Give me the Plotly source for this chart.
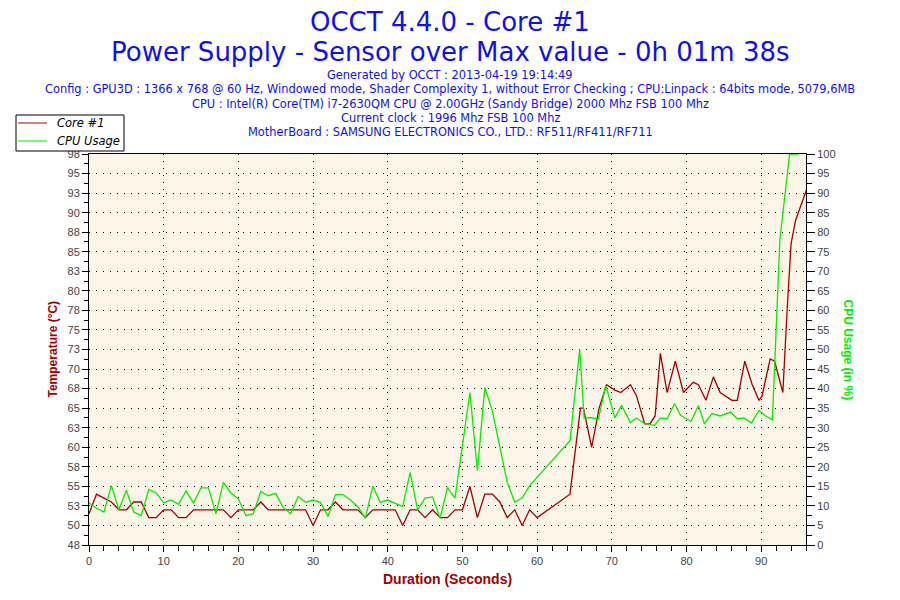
import plotly.graph_objects as go

# Core #1 temperature (deg C) against time (s)
core_time = [0, 1, 2, 3, 4, 5, 6, 7, 8, 9, 10, 11, 12, 13, 14, 15, 16, 17, 18, 19,
             20, 21, 22, 23, 24, 25, 26, 27, 28, 29, 30, 31, 32, 33, 34, 35, 36, 37, 38, 39,
             40, 41, 42, 43, 44, 45, 46, 47, 48, 49, 50, 51, 52, 53, 54, 55, 56, 57, 58, 59,
             60, 64.4, 65.8, 66.2, 67.3, 68.3, 69.3, 70.4, 71.2, 72.5, 73.3, 74.4, 75.1, 75.8,
             76.5, 77.4, 78.5, 79.6, 80.9, 81.6, 82.6, 83.6, 84.5, 85.4, 86.1, 86.8, 87.8, 88.8,
             89.7, 90.1, 91.2, 91.8, 92.9, 93.5, 94.0, 94.6, 95.3, 96.1]
core_temp = [51.5, 54, 53.5, 53, 52, 52, 53, 53, 51, 51, 52, 52, 51, 51, 52, 52, 52, 52, 52, 51,
             52, 52, 52, 53, 52, 52, 52, 52, 52, 52, 50, 52, 52, 53, 52, 52, 52, 51, 52, 52,
             52, 52, 50, 52, 52, 51, 52, 51, 51, 52, 52, 55, 51, 54, 54, 53, 51, 52, 50, 52,
             51, 54, 65, 65, 60, 65, 68, 67.3, 67, 68, 66.6, 63, 63, 64,
             72, 67, 71, 67, 68.3, 68, 66, 69, 67, 66.5, 66, 66, 71, 68,
             66, 66.5, 71.3, 71, 67, 78, 86, 89, 91, 93]

# CPU usage (%) against time (s)
cpu_time = [0, 1, 2, 3, 4, 5, 6, 7, 8, 9, 10, 11, 12, 13, 14, 15, 16, 17, 18, 19,
            20, 21, 22, 23, 24, 25, 26, 27, 28, 29, 30, 31, 32, 33, 34, 35, 36, 37, 38, 39,
            40, 41, 42, 43, 44, 45, 46, 47, 48, 49, 50, 51, 52, 53, 54, 55, 56, 57, 58, 59,
            64.4, 65.7, 66.3, 67.1, 68.2, 69.2, 70.4, 71.3, 72.5, 73.3, 74.3, 74.8, 75.7, 76.5,
            77.4, 78.4, 79.2, 80.6, 81.6, 82.4, 83.4, 84.5, 85.9, 86.8, 87.7, 88.7, 89.7, 90.6,
            91.5, 92.5, 93.8, 95]
cpu_usage = [10.8, 9.4, 8.4, 15.2, 9, 14, 8.4, 7.5, 14.2, 13.3, 10.8, 11.5, 10.4, 13.8, 10.7,
             14.6, 14.6, 8, 16, 13.3, 11.8, 7.5, 8, 13.7, 12.6, 13.2, 9.6, 8, 12.4, 10.9,
             11.5, 10.9, 7.3, 12.9, 12.9, 11.5, 9.8, 6.9, 15, 10.9, 11.5, 10.7, 9.8, 18.6, 9,
             12, 12.3, 6.8, 14.7, 12, 26, 39, 19, 40.3, 34.3, 25.5, 16, 11, 12, 15.2,
             26.7, 50, 32.4, 32.6, 32.2, 40.8, 32.5, 35.7, 31.3, 32.5, 31.2, 30.9, 30.6, 32.5,
             32.3, 36.2, 33.2, 31.6, 35.7, 31, 33.6, 33, 34, 32.3, 32.5, 31.2, 34.4, 33,
             32, 78, 100, 100]

temp_ticks = [47.5, 50, 52.5, 55, 57.5, 60, 62.5, 65, 67.5, 70, 72.5, 75, 77.5, 80,
              82.5, 85, 87.5, 90, 92.5, 95, 97.5]
temp_labels = ["48", "50", "53", "55", "58", "60", "63", "65", "68", "70", "73", "75",
               "78", "80", "83", "85", "88", "90", "93", "95", "98"]

series_names = ["Core #1", "CPU Usage"]

header_lines = [
    "Generated by OCCT : 2013-04-19 19:14:49",
    "Config : GPU3D : 1366 x 768 @ 60 Hz, Windowed mode, Shader Complexity 1, without Error Checking ; CPU:Linpack : 64bits mode, 5079,6MB",
    "CPU : Intel(R) Core(TM) i7-2630QM CPU @ 2.00GHz (Sandy Bridge) 2000 Mhz FSB 100 Mhz",
    "Current clock : 1996 Mhz FSB 100 Mhz",
    "MotherBoard : SAMSUNG ELECTRONICS CO., LTD.: RF511/RF411/RF711",
]

FONT = "DejaVu Sans"
BLUE = "#1010ee"
RED = "#a00000"
GREEN = "#00ee00"

# plot area in page pixels: x 89..806, y 154..545 (page has an 8px body margin)
def px(x):
    return (x - 89) / 717

def py(y):
    return (545 - y) / 391

fig = go.Figure()
fig.add_trace(go.Scatter(x=core_time, y=core_temp, mode="lines", name=series_names[0],
                         line=dict(color=RED, width=1.3)))
fig.add_trace(go.Scatter(x=cpu_time, y=cpu_usage, mode="lines", name=series_names[1],
                         line=dict(color=GREEN, width=1.3), yaxis="y2"))

annotations = [
    dict(text="OCCT 4.4.0 - Core #1", x=px(450), y=py(22)),
    dict(text="Power Supply - Sensor over Max value - 0h 01m 38s", x=px(450), y=py(52)),
]
for a in annotations:
    a.update(xref="paper", yref="paper", xanchor="center", yanchor="middle", showarrow=False,
             font=dict(family=FONT, size=26, color=BLUE))
for i, line in enumerate(header_lines):
    annotations.append(dict(text=line, xref="paper", yref="paper", x=px(450),
                            y=py(75 + 14.3 * i), xanchor="center", yanchor="middle",
                            showarrow=False, font=dict(family=FONT, size=11.4, color=BLUE)))
annotations += [
    dict(text="<b>Temperature (°C)</b>", xref="paper", yref="paper", x=px(52), y=0.5,
         textangle=-90, showarrow=False, xanchor="center", yanchor="middle",
         font=dict(family="Liberation Sans", size=12, color=RED)),
    dict(text="<b>CPU Usage (in %)</b>", xref="paper", yref="paper", x=px(848), y=0.5,
         textangle=90, showarrow=False, xanchor="center", yanchor="middle",
         font=dict(family="Liberation Sans", size=12, color=GREEN)),
    dict(text="<b>Duration (Seconds)</b>", xref="paper", yref="paper", x=px(447),
         y=py(579), showarrow=False, xanchor="center", yanchor="middle",
         font=dict(family="Liberation Sans", size=14, color=RED)),
]

# legend box drawn by hand, like the OCCT one
shapes = [dict(type="rect", xref="paper", yref="paper", x0=px(16), x1=px(124), y0=py(151),
               y1=py(115), fillcolor="white", line=dict(color="black", width=1), layer="above")]
for i, (name, col) in enumerate(zip(series_names, [RED, GREEN])):
    yy = 123 + 18 * i
    shapes.append(dict(type="line", xref="paper", yref="paper", x0=px(18), x1=px(47),
                       y0=py(yy), y1=py(yy), line=dict(color=col, width=1), layer="above"))
    annotations.append(dict(text=name, xref="paper", yref="paper", x=px(55), y=py(yy),
                            xanchor="left", yanchor="middle", showarrow=False,
                            font=dict(family=FONT, size=11.5, color="black", style="italic")))

tickfont = dict(family="Liberation Sans", size=11, color="#444444")

fig.update_layout(
    width=892, height=592,
    margin=dict(l=81, r=94, t=146, b=55),
    paper_bgcolor="white",
    plot_bgcolor="#fdf6e8",
    showlegend=False,
    annotations=annotations,
    shapes=shapes,
    xaxis=dict(range=[0, 96], dtick=10, tick0=0, showline=True, linecolor="black", mirror=True,
               ticks="outside", ticklen=6, tickcolor="black", tickfont=tickfont,
               showgrid=True, gridcolor="black", griddash="1px,6px", gridwidth=1,
               minor=dict(dtick=2, ticks="outside", ticklen=5, tickcolor="black"),
               zeroline=False),
    yaxis=dict(range=[47.5, 97.5], tickmode="array", tickvals=temp_ticks, ticktext=temp_labels,
               showline=True, linecolor="black", mirror=True,
               ticks="outside", ticklen=6, tickcolor="black", tickfont=tickfont,
               showgrid=True, gridcolor="black", griddash="1px,6px", gridwidth=1,
               minor=dict(dtick=1.25, tick0=47.5, ticks="outside", ticklen=4, tickcolor="black"),
               zeroline=False),
    yaxis2=dict(range=[0, 100], dtick=5, overlaying="y", side="right", showgrid=False,
                ticks="outside", ticklen=8, tickcolor="black", tickfont=tickfont,
                minor=dict(dtick=2.5, ticks="outside", ticklen=5, tickcolor="black"),
                zeroline=False, showline=False),
)

fig.write_html("out.html")
